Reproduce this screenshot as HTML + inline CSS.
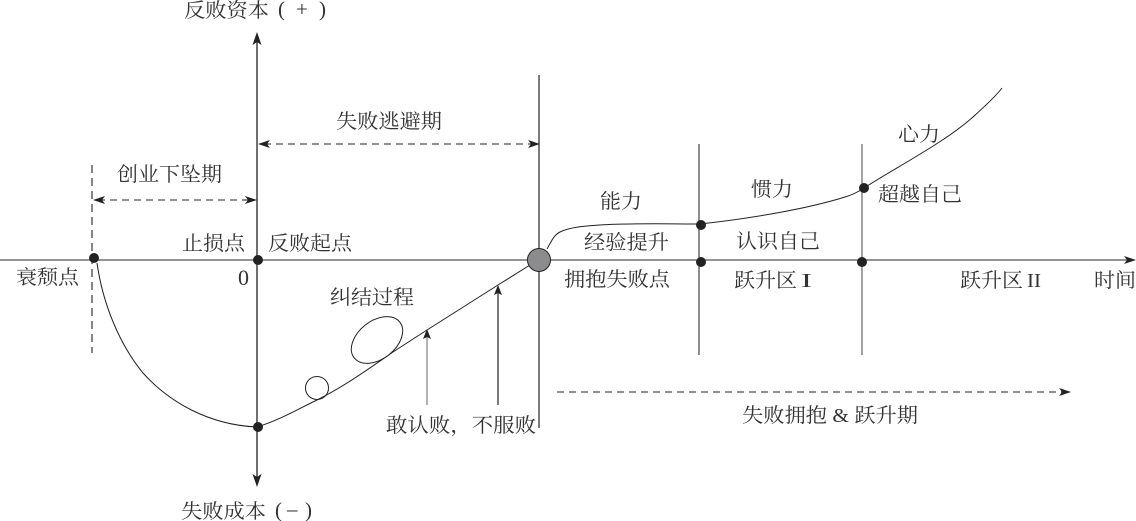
<!DOCTYPE html>
<html lang="zh">
<head>
<meta charset="utf-8">
<style>
html,body{margin:0;padding:0;background:#fff;width:1136px;height:521px;overflow:hidden}
svg{display:block}
text{font-family:"Liberation Serif","Noto Serif CJK SC",serif;font-size:20px;fill:#333}
</style>
</head>
<body>
<svg width="1136" height="521" viewBox="0 0 1136 521" xmlns="http://www.w3.org/2000/svg">
<rect width="1136" height="521" fill="#fff"/>
<g fill="none" stroke="#222">
  <line x1="0" y1="260" x2="1128" y2="260" stroke="#555" stroke-width="1.3"/>
  <line x1="257" y1="38" x2="257" y2="482" stroke-width="1.3"/>
  <line x1="539" y1="75" x2="539" y2="428" stroke-width="1.2"/>
  <line x1="699" y1="144" x2="699" y2="355" stroke="#444" stroke-width="1.2"/>
  <line x1="862" y1="144" x2="862" y2="355" stroke="#666" stroke-width="1.2"/>
  <line x1="92" y1="165" x2="92" y2="353" stroke-width="1.1" stroke-dasharray="8 5"/>
  <line x1="98" y1="200" x2="252" y2="200" stroke-width="1.1" stroke-dasharray="7 5"/>
  <line x1="264" y1="144" x2="534" y2="144" stroke-width="1.1" stroke-dasharray="7 5"/>
  <line x1="557" y1="392" x2="1064" y2="392" stroke-width="1.1" stroke-dasharray="7 5"/>
  <path d="M97 263C103 305 120 345 143 373C170 403 210 425 257 427" stroke-width="1"/>
  <path d="M257 427C280 420 300 408 317 400C345 386 370 368 393 352L427 330L498 285L530 265" stroke-width="1"/>
  <path d="M547 249C552 240 554 235 560 232C570 227 585 226 600 225C630 223 665 224 700 224" stroke-width="1"/>
  <path d="M700 224C755 218 810 208 845 197C852 195 858 192 864 188C900 165 945 142 973 117C985 106 995 97 1002 88" stroke-width="1"/>
  <ellipse cx="377" cy="340" rx="29" ry="19" transform="rotate(-38 377 340)" stroke-width="1"/>
  <circle cx="317" cy="388" r="11.5" stroke-width="1"/>
  <line x1="427" y1="336" x2="427" y2="405" stroke="#888" stroke-width="1.3"/>
  <line x1="498" y1="292" x2="498" y2="405" stroke-width="1.2"/>
</g>
<g fill="#222">
  <path d="M257 32L261.500 45L257 42L252.500 45Z"/>
  <path d="M257 487L261.500 474L257 477L252.500 474Z"/>
  <path d="M1136 260L1124 256L1127 260L1124 264Z"/>
  <path d="M93 200L105 196L102 200L105 204Z"/>
  <path d="M257 200L245 196L248 200L245 204Z"/>
  <path d="M258 144L270 140L267 144L270 148Z"/>
  <path d="M540 144L528 140L531 144L528 148Z"/>
  <path d="M1071 392L1059 388L1062 392L1059 396Z"/>
  <path d="M427 329L431 339L427 337L423 339Z"/>
  <path d="M498 285L502 295L498 293L494 295Z"/>
  <circle cx="94" cy="258" r="5"/>
  <circle cx="258" cy="260" r="5"/>
  <circle cx="258" cy="427" r="5"/>
  <circle cx="701" cy="225" r="5"/>
  <circle cx="701" cy="262" r="5"/>
  <circle cx="864" cy="188" r="5"/>
  <circle cx="862" cy="262" r="5"/>
</g>
<circle cx="539" cy="260" r="11.5" fill="#8c8c8e" stroke="#222" stroke-width="1"/>
<g>
  <text x="184" y="17" textLength="85" lengthAdjust="spacingAndGlyphs">反败资本</text>
  <text x="278" y="16" style="font-size:21px">(</text>
  <text x="296" y="16" style="font-size:21px">+</text>
  <text x="319" y="16" style="font-size:21px">)</text>
  <text x="181" y="518" textLength="85" lengthAdjust="spacingAndGlyphs">失败成本</text>
  <text x="275" y="517" style="font-size:21px">(</text>
  <text x="287" y="516" style="font-size:21px">–</text>
  <text x="305" y="517" style="font-size:21px">)</text>
  <text x="117" y="181" textLength="105" lengthAdjust="spacingAndGlyphs">创业下坠期</text>
  <text x="336" y="128" textLength="106" lengthAdjust="spacingAndGlyphs">失败逃避期</text>
  <text x="182" y="250" textLength="63" lengthAdjust="spacingAndGlyphs">止损点</text>
  <text x="268" y="250" textLength="84" lengthAdjust="spacingAndGlyphs">反败起点</text>
  <text x="16" y="284" textLength="63" lengthAdjust="spacingAndGlyphs">衰颓点</text>
  <text x="238" y="285" style="font-size:22px">0</text>
  <text x="330" y="304" textLength="84" lengthAdjust="spacingAndGlyphs">纠结过程</text>
  <text x="386" y="432" textLength="150" lengthAdjust="spacingAndGlyphs">敢认败，不服败</text>
  <text x="600" y="208" textLength="42" lengthAdjust="spacingAndGlyphs">能力</text>
  <text x="584" y="249" textLength="85" lengthAdjust="spacingAndGlyphs">经验提升</text>
  <text x="564" y="286" textLength="106" lengthAdjust="spacingAndGlyphs">拥抱失败点</text>
  <text x="751" y="196" textLength="42" lengthAdjust="spacingAndGlyphs">惯力</text>
  <text x="736" y="248" textLength="84" lengthAdjust="spacingAndGlyphs">认识自己</text>
  <text x="734" y="287" textLength="63" lengthAdjust="spacingAndGlyphs">跃升区</text>
  <text x="801" y="287" textLength="11" lengthAdjust="spacingAndGlyphs">I</text>
  <text x="898" y="141" textLength="42" lengthAdjust="spacingAndGlyphs">心力</text>
  <text x="878" y="201" textLength="84" lengthAdjust="spacingAndGlyphs">超越自己</text>
  <text x="960" y="287" textLength="63" lengthAdjust="spacingAndGlyphs">跃升区</text>
  <text x="1027" y="287" textLength="14" lengthAdjust="spacingAndGlyphs">II</text>
  <text x="1094" y="287" textLength="42" lengthAdjust="spacingAndGlyphs">时间</text>
  <text x="742" y="422" textLength="176" lengthAdjust="spacingAndGlyphs">失败拥抱 &amp; 跃升期</text>
</g>
</svg>
</body>
</html>
